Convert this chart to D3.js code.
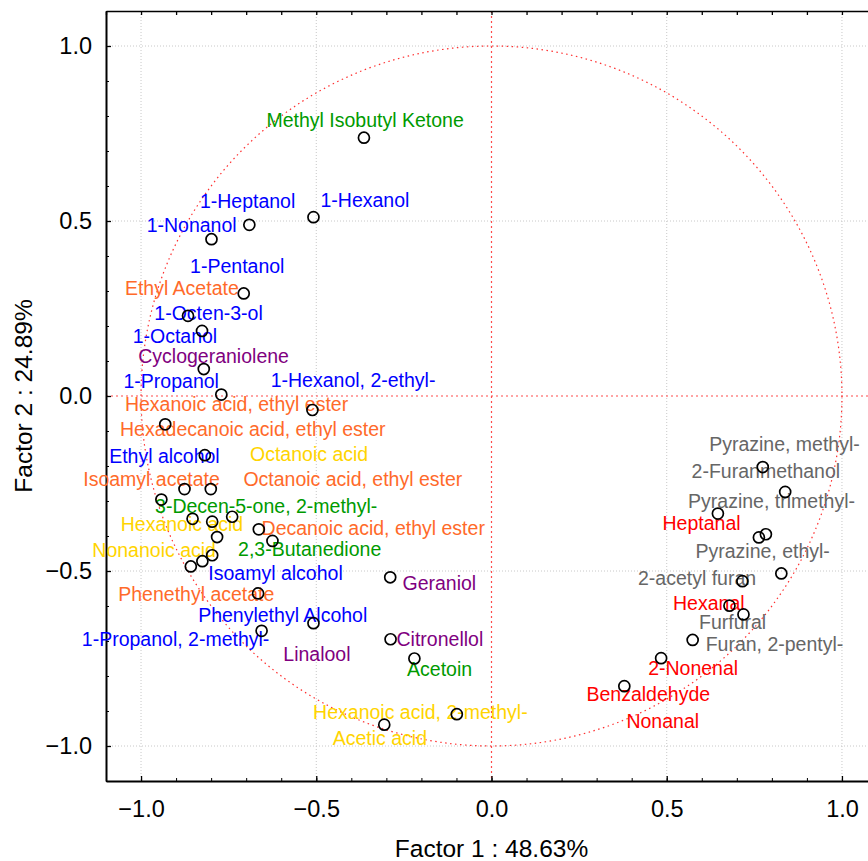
<!DOCTYPE html>
<html lang="en">
<head>
    <meta charset="UTF-8">
    <title>Factor loadings</title>
    <style>
        body { margin: 0; background: #fff; }
        svg text { font-family: Arial, "Liberation Sans", sans-serif; }
    </style>
    <script src="https://d3js.org/d3.v7.min.js"></script>
</head>
<body>
    <div id="chart"></div>
    <script>
        // compound names, factor loadings and where each label sits (data units)
        const names = [
            "Methyl Isobutyl Ketone", "1-Hexanol", "1-Heptanol", "1-Nonanol", "1-Pentanol",
            "1-Octen-3-ol", "1-Octanol", "Cyclogeraniolene", "1-Propanol", "Hexanoic acid, ethyl ester",
            "Hexadecanoic acid, ethyl ester", "Ethyl alcohol", "Isoamyl acetate", "Octanoic acid", "Ethyl Acetate",
            "Hexanoic acid", "Octanoic acid, ethyl ester", "3-Decen-5-one, 2-methyl-", "Decanoic acid, ethyl ester", "1-Hexanol, 2-ethyl-",
            "2,3-Butanedione", "Isoamyl alcohol", "1-Propanol, 2-methyl-", "Nonanoic acid", "Geraniol",
            "Phenethyl acetate", "Phenylethyl Alcohol", "Linalool", "Citronellol", "Acetoin",
            "Hexanoic acid, 2-methyl-", "Acetic acid",
            "Pyrazine, methyl-", "2-Furanmethanol", "Heptanal", "Pyrazine, trimethyl-", "Pyrazine, ethyl-",
            "Furan, 2-pentyl-", "2-acetyl furan", "Hexanal", "Furfural", "Nonanal",
            "2-Nonenal", "Benzaldehyde"
        ];
        const groups = [
            "ketone", "alcohol", "alcohol", "alcohol", "alcohol",
            "alcohol", "alcohol", "terpene", "alcohol", "ester",
            "ester", "alcohol", "ester", "acid", "ester",
            "acid", "ester", "ketone", "ester", "alcohol",
            "ketone", "alcohol", "alcohol", "acid", "terpene",
            "ester", "alcohol", "terpene", "terpene", "ketone",
            "acid", "acid",
            "furan", "furan", "aldehyde", "furan", "furan",
            "furan", "furan", "aldehyde", "furan", "aldehyde",
            "aldehyde", "aldehyde"
        ];
        const factor1 = [
            -0.364, -0.508, -0.691, -0.799, -0.707,
            -0.866, -0.826, -0.821, -0.771, -0.511,
            -0.931, -0.818, -0.876, -0.801, -0.942,
            -0.853, -0.797, -0.740, -0.664, -0.783,
            -0.625, -0.797, -0.825, -0.858, -0.289,
            -0.666, -0.508, -0.656, -0.288, -0.220,
            -0.099, -0.306,
            0.774, 0.838, 0.646, 0.783, 0.763,
            0.827, 0.716, 0.679, 0.719, 0.574,
            0.484, 0.379
        ];
        const factor2 = [
            0.738, 0.511, 0.489, 0.448, 0.293,
            0.229, 0.186, 0.077, 0.004, -0.040,
            -0.081, -0.169, -0.266, -0.266, -0.296,
            -0.351, -0.359, -0.345, -0.381, -0.403,
            -0.414, -0.455, -0.472, -0.487, -0.518,
            -0.564, -0.649, -0.671, -0.695, -0.750,
            -0.909, -0.939,
            -0.203, -0.274, -0.336, -0.395, -0.404,
            -0.507, -0.529, -0.599, -0.624, -0.697,
            -0.749, -0.829
        ];
        const labelX = [
            -0.642, -0.488, -0.832, -0.984, -0.860,
            -0.962, -1.024, -1.008, -1.050, -1.046,
            -1.060, -1.091, -1.165, -0.689, -1.046,
            -1.058, -0.708, -0.960, -0.656, -0.630,
            -0.723, -0.808, -1.169, -1.139, -0.254,
            -1.065, -0.837, -0.594, -0.271, -0.241,
            -0.509, -0.453,
            0.621, 0.571, 0.488, 0.561, 0.582,
            0.611, 0.418, 0.518, 0.592, 0.385,
            0.447, 0.271
        ];
        const labelY = [
            0.768, 0.541, 0.537, 0.468, 0.351,
            0.218, 0.151, 0.094, 0.023, -0.044,
            -0.115, -0.191, -0.258, -0.185, 0.289,
            -0.387, -0.258, -0.334, -0.396, 0.027,
            -0.458, -0.525, -0.715, -0.461, -0.553,
            -0.587, -0.647, -0.758, -0.715, -0.799,
            -0.922, -0.996,
            -0.158, -0.234, -0.382, -0.320, -0.463,
            -0.729, -0.539, -0.610, -0.667, -0.948,
            -0.796, -0.872
        ];
        const majorTicks = [-1.0, -0.5, 0.0, 0.5, 1.0];
        const minorTicks = d3.range(-11, 12).map(d => d / 10);
        const xTitle = "Factor 1 : 48.63%";
        const yTitle = "Factor 2 : 24.89%";

        const groupColor = {
            alcohol: "#0000ff",
            ester: "#ff6a2a",
            ketone: "#009a00",
            acid: "#ffd400",
            terpene: "#800080",
            furan: "#666666",
            aldehyde: "#ff0000"
        };

        const margin = {top: 11, right: 0, bottom: 80, left: 106};
        const width = 771;
        const height = 770;

        const svg = d3.select("#chart")
            .append("svg")
            .attr("width", 868)
            .attr("height", 861);

        const g = svg.append("g")
            .attr("transform", `translate(${margin.left},${margin.top})`);

        const x = d3.scaleLinear().domain([-1.1, 1.1]).range([0, width]);
        const y = d3.scaleLinear().domain([-1.1, 1.1]).range([height, 0]);

        // dotted grid at the major ticks (zero lines are drawn in red below)
        g.selectAll(".vgrid")
            .data(majorTicks.filter(d => d !== 0))
            .enter().append("line")
            .attr("x1", d => x(d)).attr("x2", d => x(d))
            .attr("y1", 0).attr("y2", height)
            .attr("stroke", "#c8c8c8")
            .attr("stroke-dasharray", "1,2");
        g.selectAll(".hgrid")
            .data(majorTicks.filter(d => d !== 0))
            .enter().append("line")
            .attr("x1", 0).attr("x2", width)
            .attr("y1", d => y(d)).attr("y2", d => y(d))
            .attr("stroke", "#c8c8c8")
            .attr("stroke-dasharray", "1,2");

        // red zero lines and unit circle
        g.append("line")
            .attr("x1", x(0)).attr("x2", x(0))
            .attr("y1", 0).attr("y2", height)
            .attr("stroke", "#ff4a4a")
            .attr("stroke-width", 1.2)
            .attr("stroke-dasharray", "2,3");
        g.append("line")
            .attr("x1", 0).attr("x2", width)
            .attr("y1", y(0)).attr("y2", y(0))
            .attr("stroke", "#ff4a4a")
            .attr("stroke-width", 1.2)
            .attr("stroke-dasharray", "2,3");
        g.append("ellipse")
            .attr("cx", x(0)).attr("cy", y(0))
            .attr("rx", x(1) - x(0)).attr("ry", y(0) - y(1))
            .attr("fill", "none")
            .attr("stroke", "#ff3030")
            .attr("stroke-width", 1.2)
            .attr("stroke-dasharray", "1.5,3.5");

        // axes: major and minor ticks pointing inwards
        function styleAxis(sel, w) {
            sel.select(".domain").attr("stroke-width", w);
            sel.selectAll(".tick line").attr("stroke-width", 1.3);
        }

        const fmt = d3.format(".1f");

        const axBottom = g.append("g")
            .attr("transform", `translate(0,${height})`)
            .call(d3.axisBottom(x).tickValues(majorTicks).tickFormat(fmt)
                .tickSize(-5).tickSizeOuter(0).tickPadding(19));
        styleAxis(axBottom, 2);
        axBottom.selectAll("text").attr("font-size", "23.5px").attr("fill", "#000")
            .style("font-family", "Arial, 'Liberation Sans', sans-serif");
        g.append("g")
            .attr("transform", `translate(0,${height})`)
            .call(d3.axisBottom(x).tickValues(minorTicks).tickFormat("")
                .tickSize(-3).tickSizeOuter(0))
            .call(s => s.select(".domain").remove());

        const axLeft = g.append("g")
            .call(d3.axisLeft(y).tickValues(majorTicks).tickFormat(fmt)
                .tickSize(-5).tickSizeOuter(0).tickPadding(14));
        styleAxis(axLeft, 2);
        axLeft.selectAll("text").attr("font-size", "23.5px").attr("fill", "#000")
            .style("font-family", "Arial, 'Liberation Sans', sans-serif");
        g.append("g")
            .call(d3.axisLeft(y).tickValues(minorTicks).tickFormat("")
                .tickSize(-3).tickSizeOuter(0))
            .call(s => s.select(".domain").remove());

        const axTop = g.append("g")
            .call(d3.axisTop(x).tickValues(minorTicks).tickFormat("")
                .tickSize(-4).tickSizeOuter(0));
        styleAxis(axTop, 1.6);

        const axRight = g.append("g")
            .attr("transform", `translate(${width},0)`)
            .call(d3.axisRight(y).tickValues(minorTicks).tickFormat("")
                .tickSize(-4).tickSizeOuter(0));
        styleAxis(axRight, 1.6);

        // labels
        g.selectAll(".lbl")
            .data(names)
            .enter().append("text")
            .attr("class", "lbl")
            .attr("x", (d, i) => x(labelX[i]))
            .attr("y", (d, i) => y(labelY[i]))
            .attr("font-size", "19.5px")
            .attr("fill", (d, i) => groupColor[groups[i]])
            .text(d => d);

        // points
        g.selectAll(".pt")
            .data(names)
            .enter().append("circle")
            .attr("class", "pt")
            .attr("cx", (d, i) => x(factor1[i]))
            .attr("cy", (d, i) => y(factor2[i]))
            .attr("r", 5.5)
            .attr("fill", "none")
            .attr("stroke", "#000")
            .attr("stroke-width", 1.7);

        // axis titles
        svg.append("text")
            .attr("x", margin.left + x(0))
            .attr("y", 857)
            .attr("text-anchor", "middle")
            .attr("font-size", "24.5px")
            .text(xTitle);
        svg.append("text")
            .attr("transform", `translate(31.5,${margin.top + y(0)}) rotate(-90)`)
            .attr("text-anchor", "middle")
            .attr("font-size", "24.5px")
            .text(yTitle);
    </script>
</body>
</html>
